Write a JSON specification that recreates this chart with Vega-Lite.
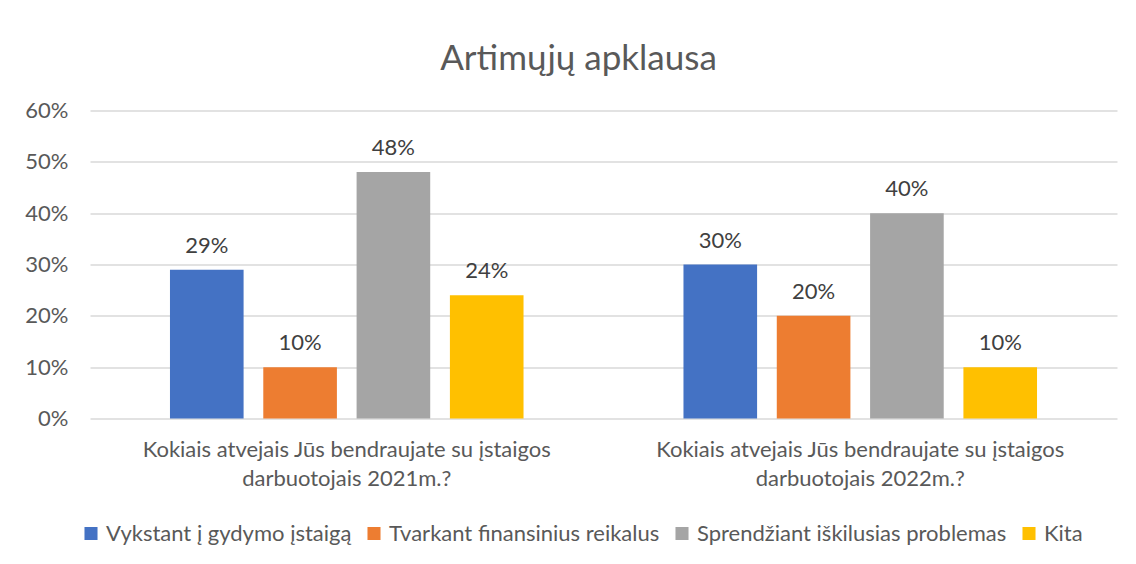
{
  "$schema": "https://vega.github.io/schema/vega-lite/v6.json",
  "width": 1027,
  "height": 308,
  "autosize": {"type": "none"},
  "padding": {"left": 90, "top": 110.5, "right": 19, "bottom": 145.5},
  "background": "white",
  "title": {"text": "Artimųjų apklausa", "font": "Lato", "fontSize": 35, "fontWeight": "normal", "color": "#595959", "anchor": "middle", "dx": -25, "offset": 23},
  "config": {"view": {"stroke": null}, "font": "Lato"},
  "data": {"values": [
    {"q": "Kokiais atvejais Jūs bendraujate su įstaigos|darbuotojais 2021m.?", "cat": "Vykstant į gydymo įstaigą", "v": 0.29},
    {"q": "Kokiais atvejais Jūs bendraujate su įstaigos|darbuotojais 2021m.?", "cat": "Tvarkant finansinius reikalus", "v": 0.10},
    {"q": "Kokiais atvejais Jūs bendraujate su įstaigos|darbuotojais 2021m.?", "cat": "Sprendžiant iškilusias problemas", "v": 0.48},
    {"q": "Kokiais atvejais Jūs bendraujate su įstaigos|darbuotojais 2021m.?", "cat": "Kita", "v": 0.24},
    {"q": "Kokiais atvejais Jūs bendraujate su įstaigos|darbuotojais 2022m.?", "cat": "Vykstant į gydymo įstaigą", "v": 0.30},
    {"q": "Kokiais atvejais Jūs bendraujate su įstaigos|darbuotojais 2022m.?", "cat": "Tvarkant finansinius reikalus", "v": 0.20},
    {"q": "Kokiais atvejais Jūs bendraujate su įstaigos|darbuotojais 2022m.?", "cat": "Sprendžiant iškilusias problemas", "v": 0.40},
    {"q": "Kokiais atvejais Jūs bendraujate su įstaigos|darbuotojais 2022m.?", "cat": "Kita", "v": 0.10}
  ]},
  "encoding": {
    "x": {"field": "q", "type": "nominal", "scale": {"paddingInner": 0, "paddingOuter": 0},
      "axis": {"title": null, "domain": false, "ticks": false, "labelAngle": 0, "labelExpr": "split(datum.label, '|')", "labelFont": "Lato", "labelFontSize": 22, "labelColor": "#595959", "labelPadding": 21, "labelLineHeight": 29, "labelLimit": 700}},
    "xOffset": {"field": "cat", "type": "nominal", "sort": ["Vykstant į gydymo įstaigą", "Tvarkant finansinius reikalus", "Sprendžiant iškilusias problemas", "Kita"], "scale": {"paddingInner": 0.211, "paddingOuter": 0.857}},
    "y": {"field": "v", "type": "quantitative", "scale": {"domain": [0, 0.6]},
      "axis": {"title": null, "format": ".0%", "values": [0, 0.1, 0.2, 0.3, 0.4, 0.5, 0.6], "domain": false, "ticks": false, "grid": true, "gridColor": "#D9D9D9", "gridWidth": 1.3, "labelFont": "Lato", "labelFontSize": 22, "labelColor": "#595959", "labelPadding": 22}}
  },
  "layer": [
    {"mark": {"type": "bar"},
     "encoding": {"color": {"field": "cat", "type": "nominal",
        "scale": {"domain": ["Vykstant į gydymo įstaigą", "Tvarkant finansinius reikalus", "Sprendžiant iškilusias problemas", "Kita"], "range": ["#4472C4", "#ED7D31", "#A5A5A5", "#FFC000"]},
        "legend": {"title": null, "orient": "none", "legendX": -10, "legendY": 412, "direction": "horizontal", "padding": 0, "symbolType": "square", "symbolSize": 170, "symbolStrokeWidth": 0, "labelFont": "Lato", "labelFontSize": 22, "labelColor": "#595959", "columnPadding": 11, "labelOffset": 4, "labelLimit": 500}}}},
    {"mark": {"type": "text", "baseline": "alphabetic", "dy": -17, "font": "Lato", "fontSize": 22, "color": "#404040"},
     "encoding": {"text": {"field": "v", "type": "quantitative", "format": ".0%"}}}
  ]
}
